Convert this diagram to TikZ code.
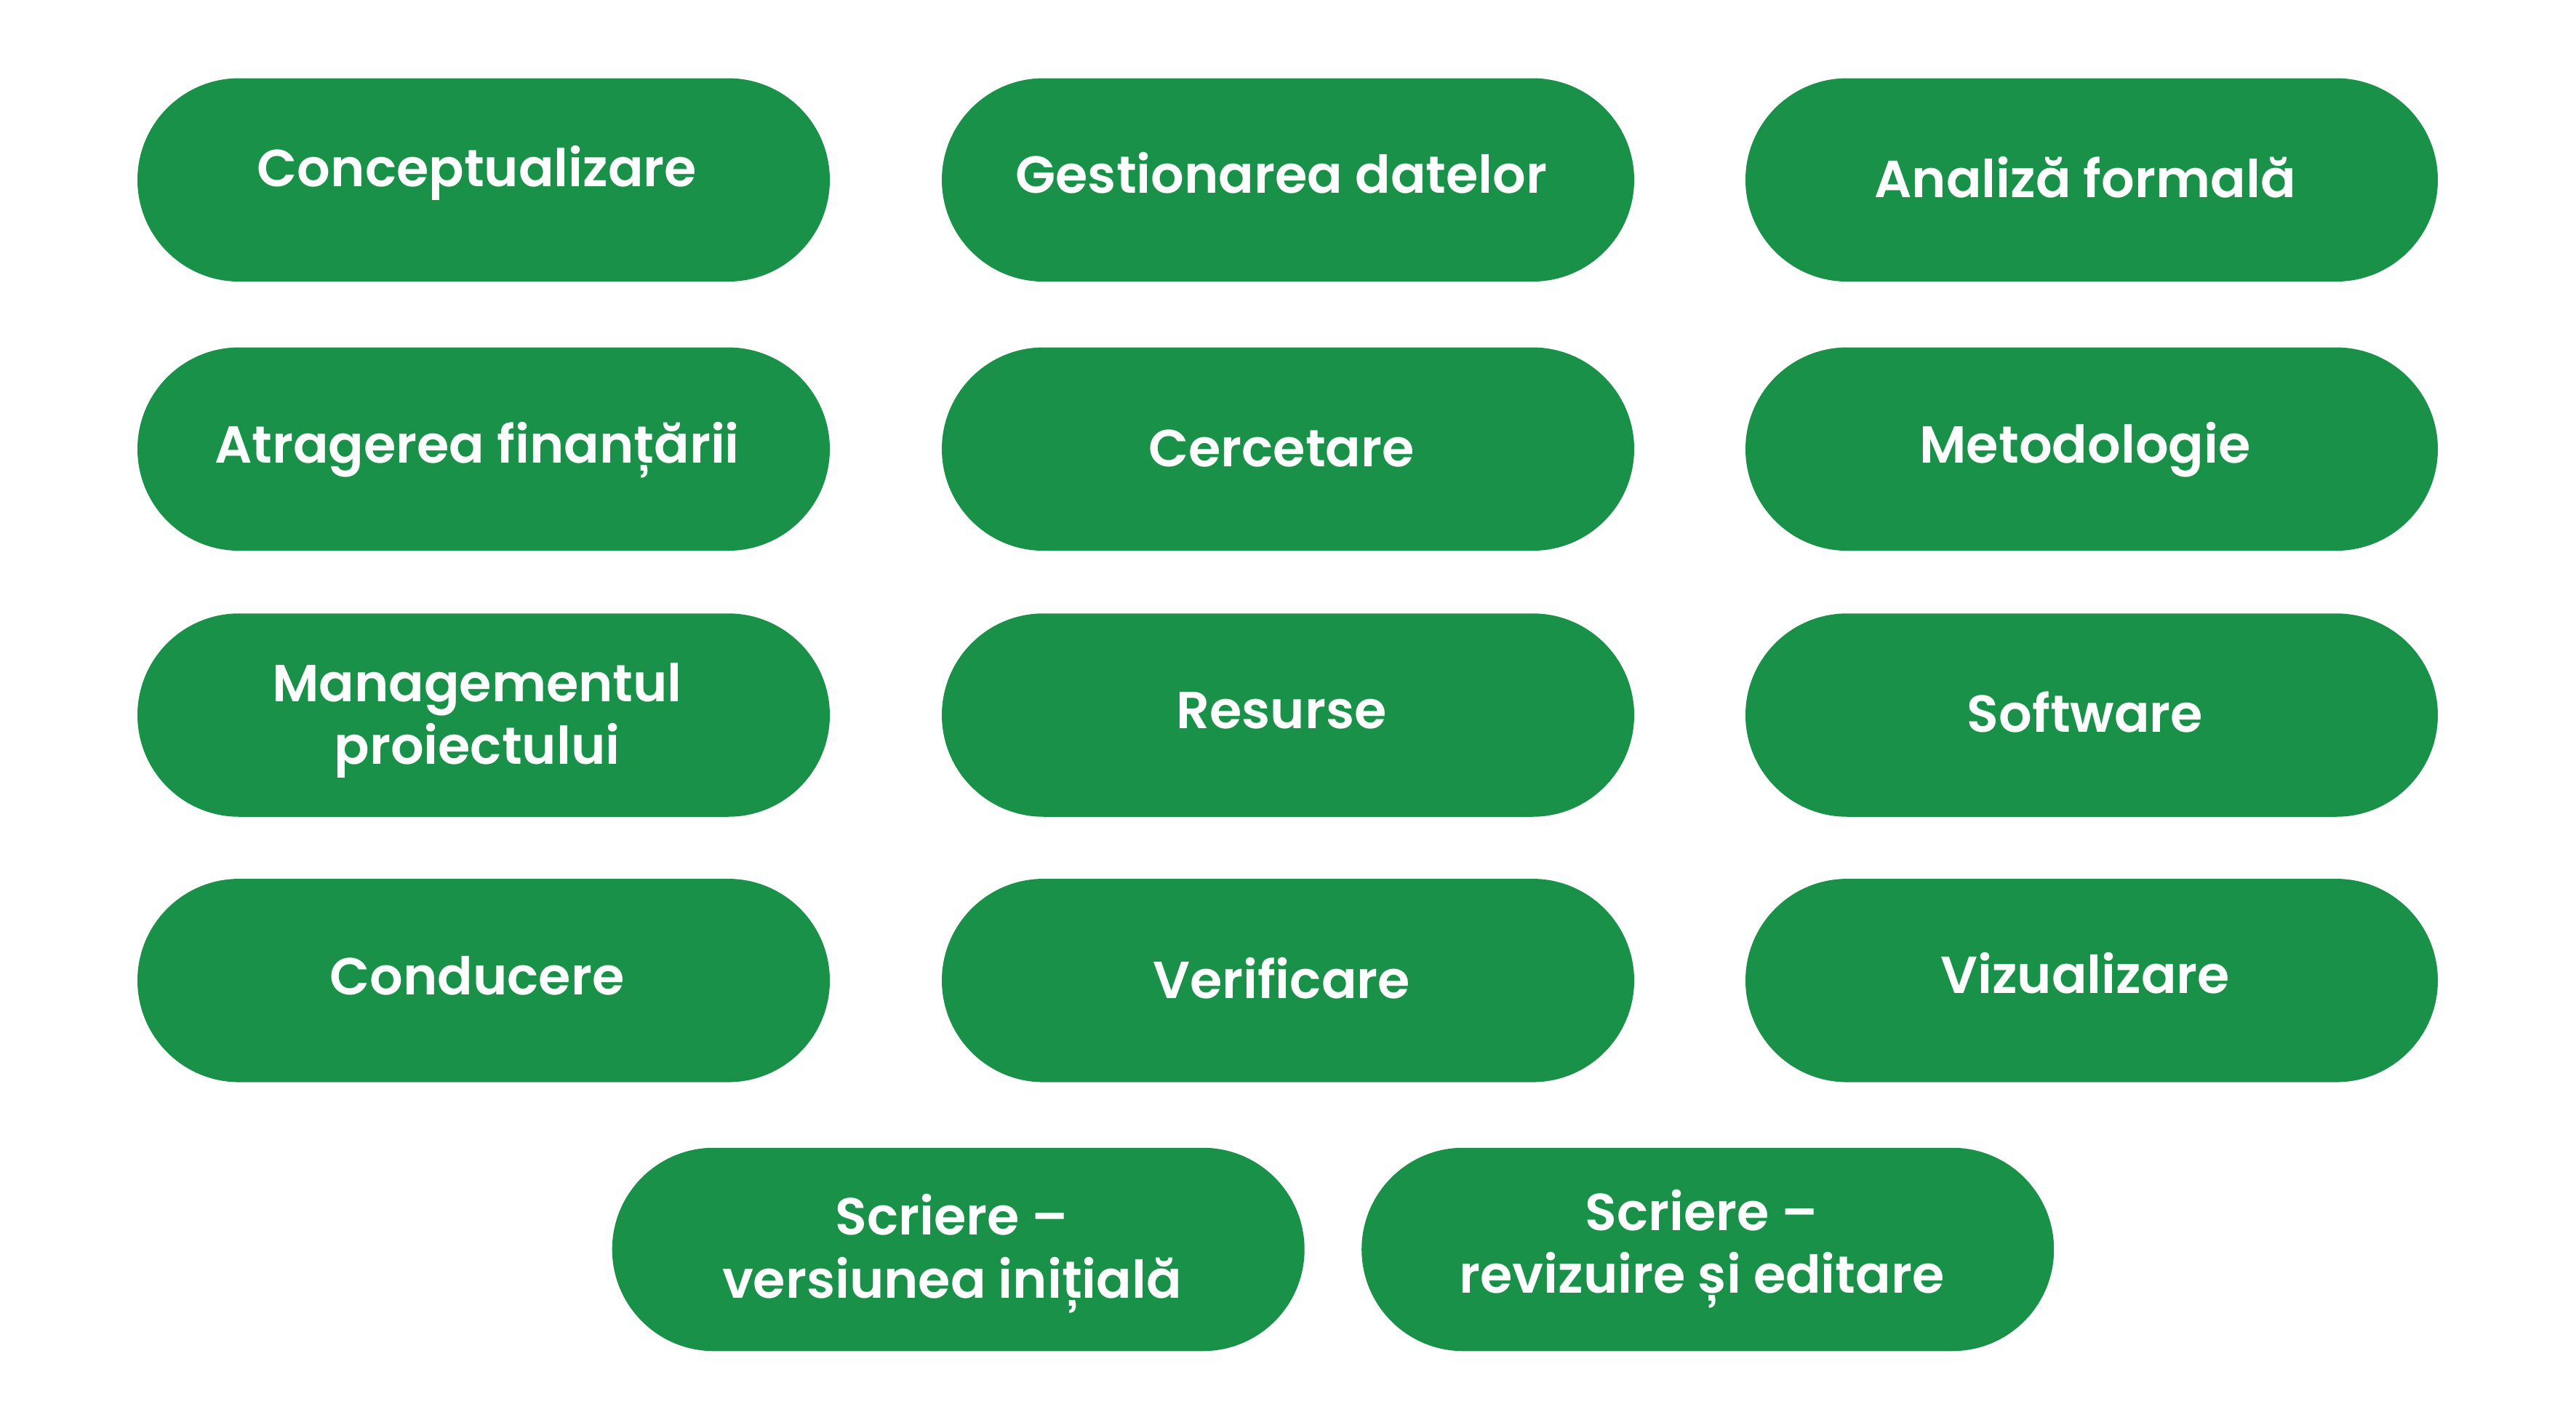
\documentclass[tikz,border=0pt]{standalone}
\usepackage{fontspec}
\setmainfont{Poppins}[UprightFont=* SemiBold]
\usetikzlibrary{shapes.misc}
\definecolor{pillgreen}{HTML}{1A9148}

\begin{document}
\begin{tikzpicture}[x=1cm, y=-1cm,
    pill/.style={rounded rectangle, fill=pillgreen, minimum width=9.52cm, minimum height=2.795cm, inner sep=0pt},
    pilltext/.style={anchor=base, align=center, text=white, inner sep=0pt, font=\fontsize{20.4pt}{24.5pt}\selectfont}]
	\useasboundingbox (0,0) rectangle (35.42,19.63);
	%
	\node[pill] (concept) at (6.65,2.473) {};
	\node[pill] (gestiune) at (17.71,2.473) {};
	\node[pill] (analiza) at (28.76,2.473) {};
	\node[pilltext] (concept-text) at (6.56,2.57) {Conceptualizare};
	\node[pilltext] (gestiune-text) at (17.62,2.654) {Gestionarea datelor};
	\node[pilltext] (analiza-text) at (28.67,2.712) {Analiză formală};
	%
	\node[pill] (finantare) at (6.65,6.173) {};
	\node[pill] (cercetare) at (17.71,6.173) {};
	\node[pill] (metodologie) at (28.76,6.173) {};
	\node[pilltext] (finantare-text) at (6.56,6.36) {Atragerea finanțării};
	\node[pilltext] (cercetare-text) at (17.62,6.419) {Cercetare};
	\node[pilltext] (metodologie-text) at (28.67,6.36) {Metodologie};
	%
	\node[pill] (management) at (6.65,9.83) {};
	\node[pill] (resurse) at (17.71,9.83) {};
	\node[pill] (software) at (28.76,9.83) {};
	\node[pilltext] (management-text) at (6.56,10.506) {Managementul\\proiectului};
	\node[pilltext] (resurse-text) at (17.62,10.01) {Resurse};
	\node[pilltext] (software-text) at (28.67,10.067) {Software};
	%
	\node[pill] (conducere) at (6.65,13.478) {};
	\node[pill] (verificare) at (17.71,13.478) {};
	\node[pill] (vizualizare) at (28.76,13.478) {};
	\node[pilltext] (conducere-text) at (6.56,13.67) {Conducere};
	\node[pilltext] (verificare-text) at (17.62,13.724) {Verificare};
	\node[pilltext] (vizualizare-text) at (28.67,13.657) {Vizualizare};
	%
	\node[pill] (scriere-initiala) at (13.177,17.175) {};
	\node[pill] (scriere-revizuire) at (23.482,17.175) {};
	\node[pilltext] (scriere-initiala-text) at (13.09,17.84) {Scriere –\\versiunea inițială};
	\node[pilltext] (scriere-revizuire-text) at (23.40,17.774) {Scriere –\\revizuire și editare};
\end{tikzpicture}
\end{document}
